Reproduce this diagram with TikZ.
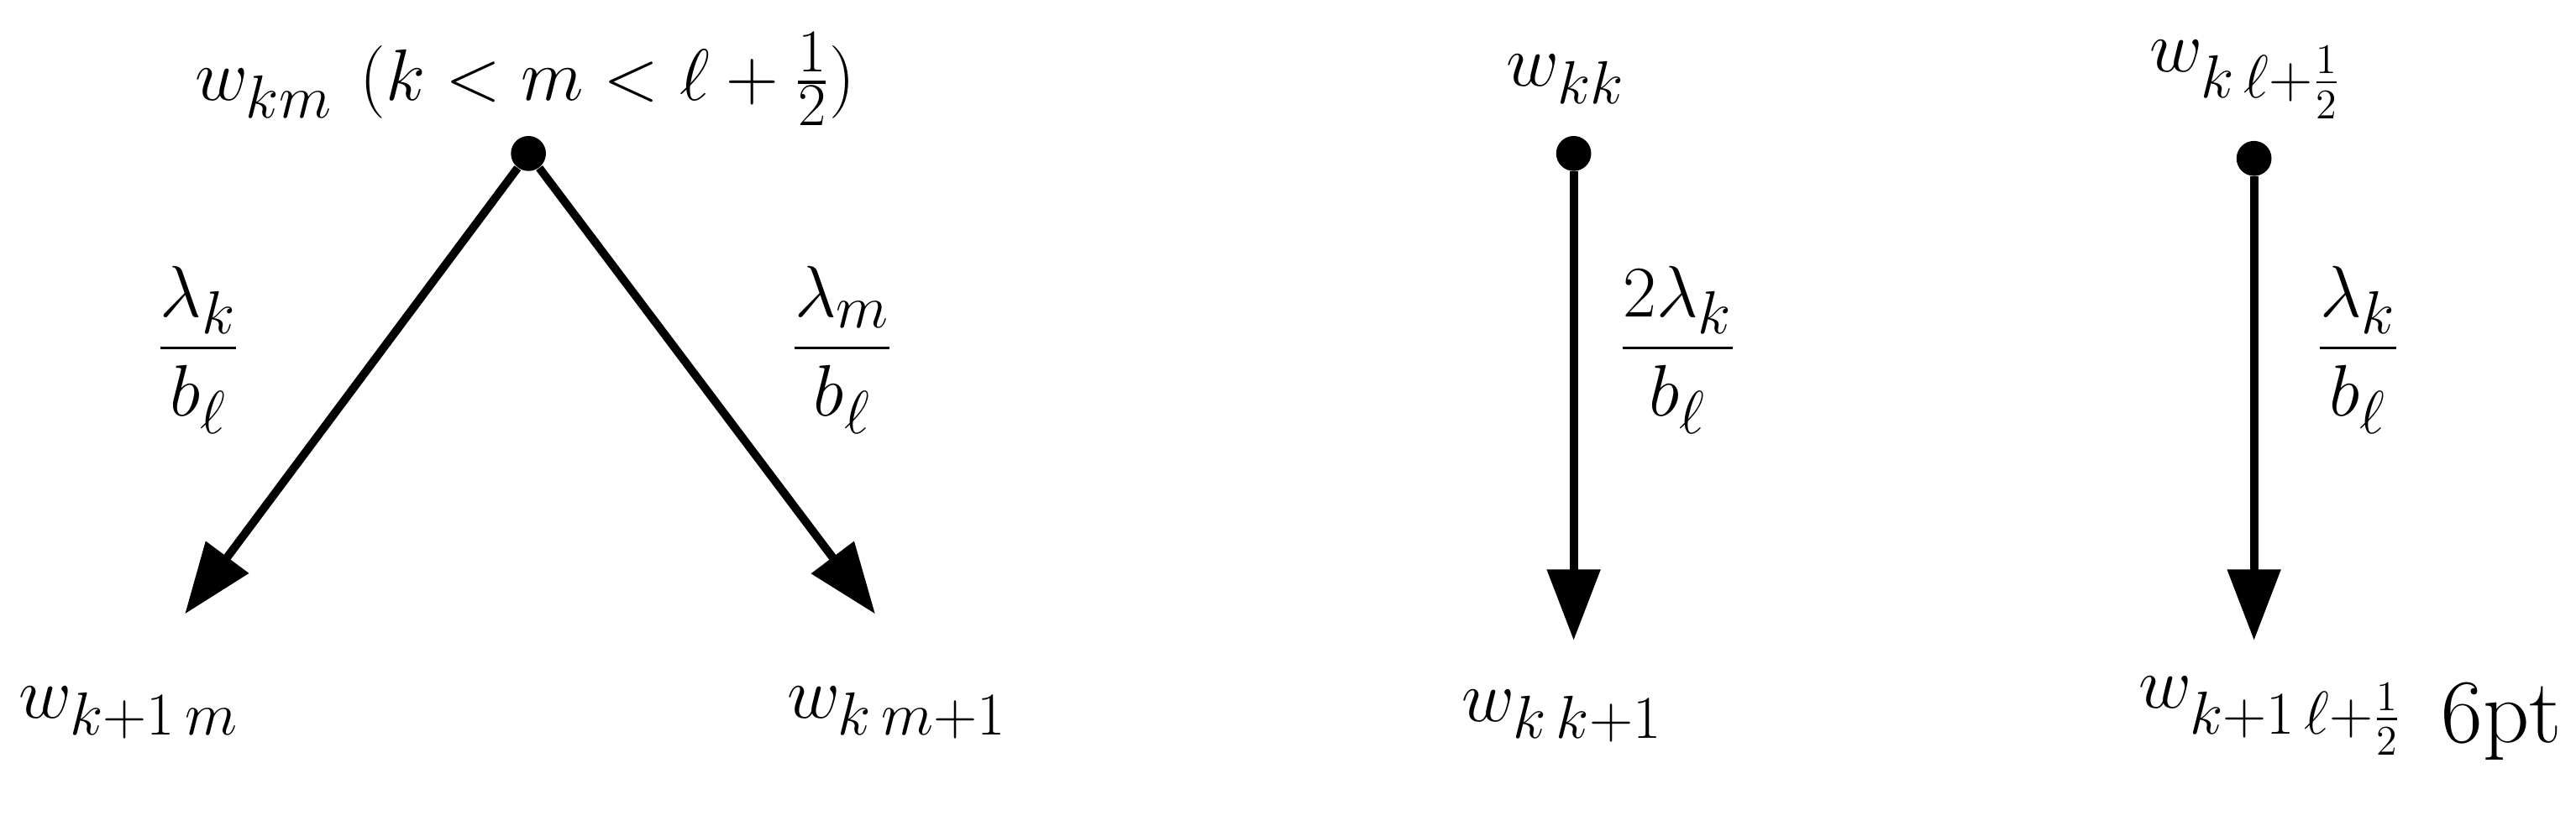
\documentclass[tikz,border=0pt]{standalone}
\usepackage{amsmath}
\usetikzlibrary{arrows.meta}
\begin{document}
\begin{tikzpicture}[x=0.0198cm,y=-0.0198cm,
  lbl/.style={font=\fontsize{31}{36}\selectfont},
  arr/.style={line width=2.8pt,-{Triangle[length=0.85cm,width=0.62cm]}},
  dot/.style={circle,fill=black,inner sep=0pt,minimum size=0.42cm}]
\useasboundingbox (0,0) rectangle (1560,500);
% left
\node[dot] (a) at (320,93) {};
\coordinate (a1) at (112,372);
\coordinate (a2) at (530,372);
\draw[arr] (a) -- (a1);
\draw[arr] (a) -- (a2);
\node[lbl] (ta) at (318,48) {$w_{km}\ (k<m<\ell+\frac12)$};
\node[lbl] (la1) at (120,212) {$\dfrac{\lambda_k}{b_\ell}$};
\node[lbl] (la2) at (510,212) {$\dfrac{\lambda_m}{b_\ell}$};
\node[lbl] (ba1) at (78,432) {$w_{k+1\,m}$};
\node[lbl] (ba2) at (543,432) {$w_{k\,m+1}$};
% middle
\node[dot] (b) at (953,93) {};
\coordinate (b1) at (953,388);
\draw[arr] (b) -- (b1);
\node[lbl] (tb) at (948,48) {$w_{kk}$};
\node[lbl] (lb) at (1016,212) {$\dfrac{2\lambda_k}{b_\ell}$};
\node[lbl] (bb) at (946,434) {$w_{k\,k+1}$};
% right
\node[dot] (c) at (1365,96) {};
\coordinate (c1) at (1365,388);
\draw[arr] (c) -- (c1);
\node[lbl] (tc) at (1360,48) {$w_{k\,\ell+\frac12}$};
\node[lbl] (lc) at (1428,212) {$\dfrac{\lambda_k}{b_\ell}$};
\node[lbl] (bc) at (1375,434) {$w_{k+1\,\ell+\frac12}$};
\node[lbl] (pt) at (1515,437) {6pt};
\end{tikzpicture}
\end{document}
